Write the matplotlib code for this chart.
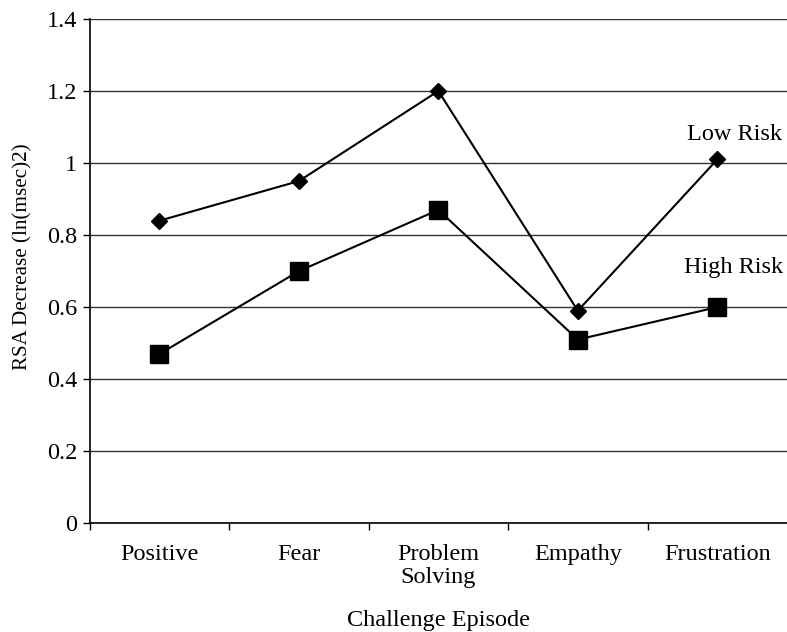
import numpy as np
import matplotlib
matplotlib.use("Agg")
from matplotlib import pyplot as plt

episodes = ["Positive", "Fear", "Problem\nSolving", "Empathy", "Frustration"]
low_risk = [0.84, 0.95, 1.20, 0.59, 1.01]
high_risk = [0.47, 0.70, 0.87, 0.51, 0.60]
y_ticks = [0, 0.2, 0.4, 0.6, 0.8, 1, 1.2, 1.4]
y_tick_labels = ["0", "0.2", "0.4", "0.6", "0.8", "1", "1.2", "1.4"]

plt.rcParams["font.family"] = ["Liberation Serif", "DejaVu Serif"]

fig = plt.figure(figsize=(7.87, 6.32), dpi=100)
ax = fig.add_axes([0.114, 0.172, 0.886, 0.798])

x = np.arange(len(episodes))
ax.plot(x, low_risk, color="black", lw=1.5, marker="D", ms=8.5, zorder=3)
ax.plot(x, high_risk, color="black", lw=1.5, marker="s", ms=12.5, zorder=3)

ax.set_xlim(-0.5, len(episodes) - 0.5)
ax.set_ylim(0, 1.4)
ax.set_yticks(y_ticks)
ax.set_yticklabels(y_tick_labels)
ax.yaxis.grid(True, color="#333333", lw=1.0)
ax.set_axisbelow(True)

ax.set_xticks(x)
ax.set_xticklabels(episodes, linespacing=1.1)
ax.set_xticks(np.arange(len(episodes)) - 0.5, minor=True)
ax.tick_params(axis="x", which="major", length=0, pad=15, labelsize=17.5)
ax.tick_params(axis="x", which="minor", length=5, direction="out", width=1)
ax.tick_params(axis="y", length=5, direction="out", width=1, labelsize=17.5, pad=4)

for side in ["top", "right"]:
    ax.spines[side].set_visible(False)
ax.spines["left"].set_linewidth(1.2)
ax.spines["bottom"].set_linewidth(1.2)

ax.set_xlabel("Challenge Episode", fontsize=17.5, labelpad=16)
ax.set_ylabel("RSA Decrease (ln(msec)2)", fontsize=15.2)
ax.yaxis.set_label_coords(-0.082, 0.528)

ax.text(4.12, 1.08, "Low Risk", fontsize=17.5, ha="center", va="center")
ax.text(4.12, 0.71, "High Risk", fontsize=17.5, ha="center", va="center")

fig.savefig("out.png", dpi=100)
